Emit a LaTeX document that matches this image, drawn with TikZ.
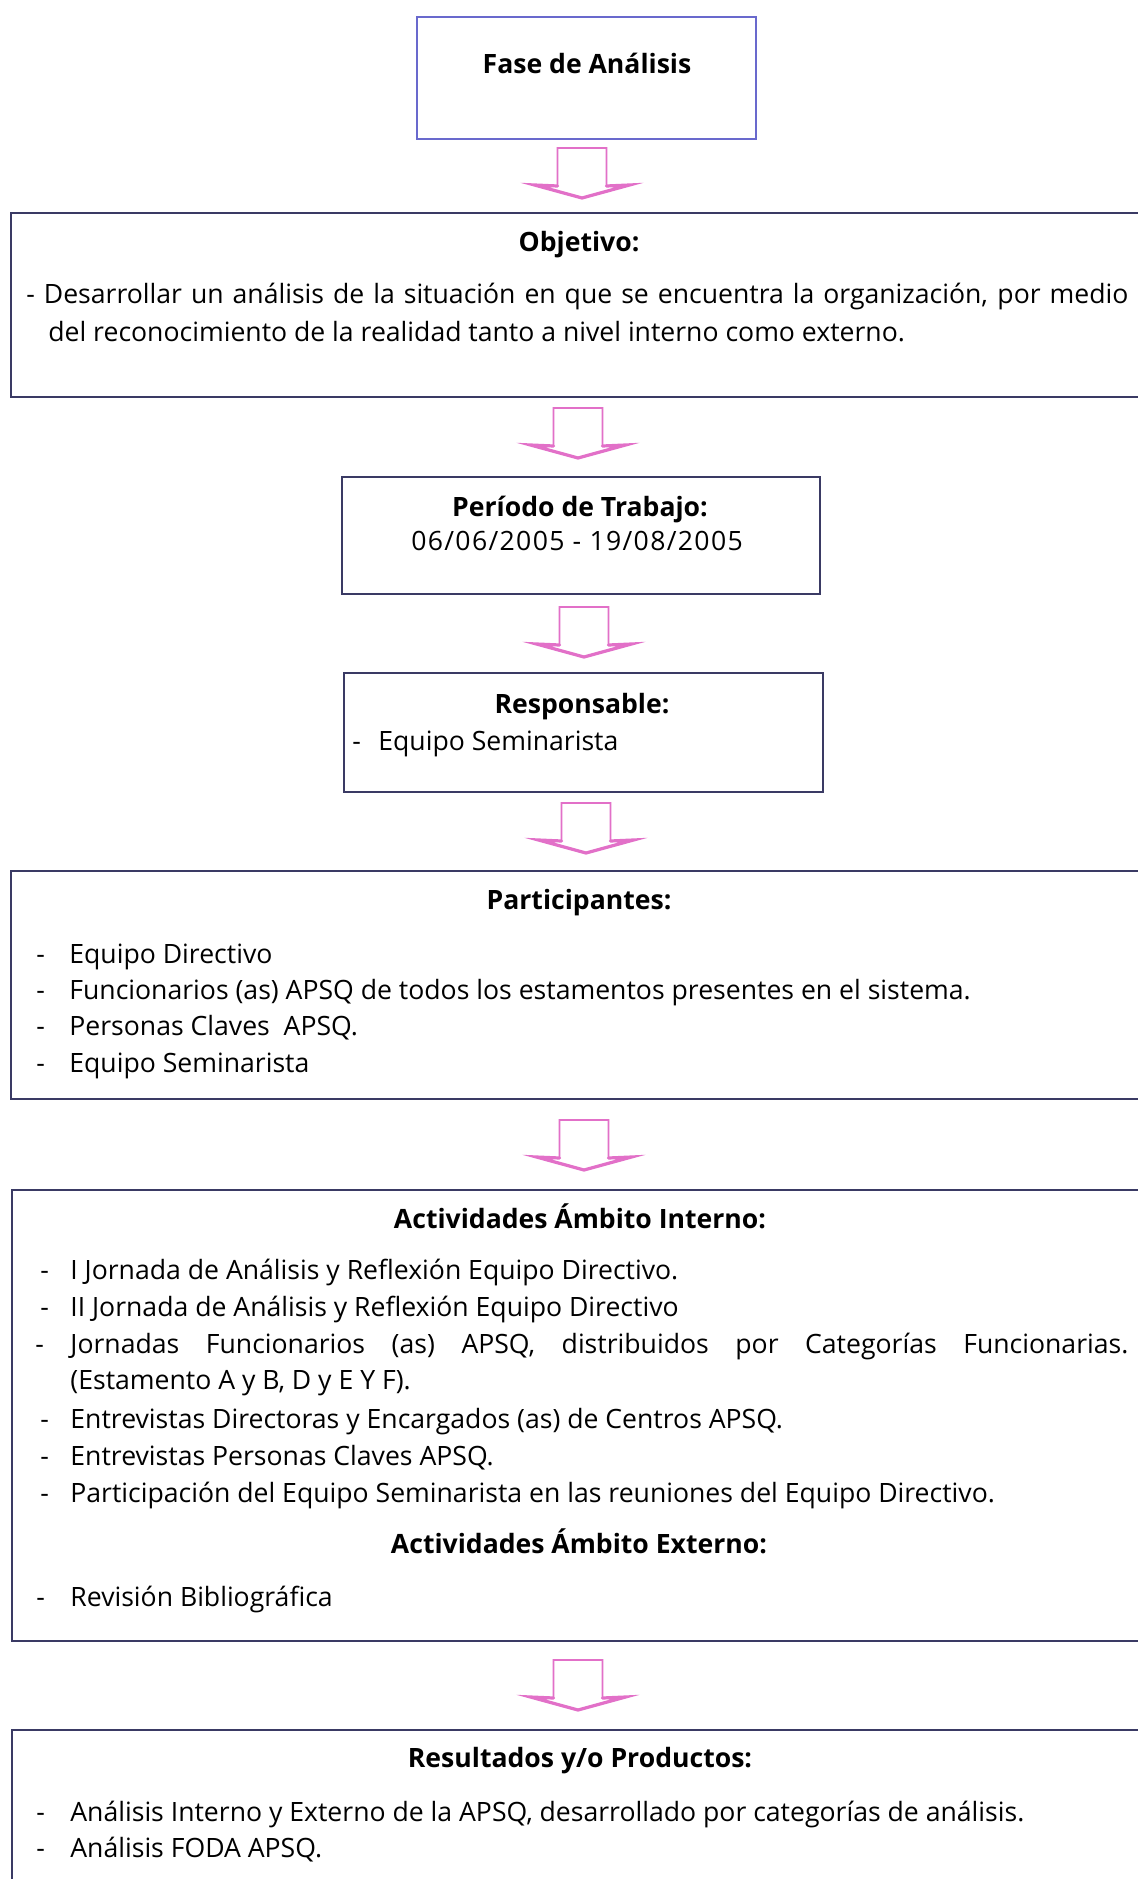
\documentclass[tikz,border=0pt]{standalone}
\usepackage{fontspec}
\setmainfont{Open Sans}
\usetikzlibrary{fit}

\definecolor{boxline}{RGB}{58,58,100}
\definecolor{topline}{RGB}{105,105,205}
\definecolor{arrowpink}{RGB}{226,112,200}

\newcommand\flowfont{\fontsize{13.3pt}{18pt}\selectfont}

\tikzset{
  frame/.style={draw=boxline, line width=1pt, inner sep=0pt, fill=white},
  heading/.style={font=\flowfont\bfseries, anchor=base, inner sep=0pt},
  txt/.style={font=\flowfont, anchor=base west, inner sep=0pt},
  flow/.style={draw=arrowpink, line width=0.9pt, fill=white, line join=miter},
  flowhead/.style={draw=arrowpink, line width=1.6pt, line join=miter, line cap=round},
  pics/downarrow/.style={code={
    \draw[flow] (-24.5,0) -- (24.5,0) -- (24.5,38) -- (47.5,37) -- (0,50)
      -- (-47.5,37) -- (-24.5,38) -- cycle;
    \draw[flowhead] (24.5,38) -- (47.5,37) -- (0,50) -- (-47.5,37) -- (-24.5,38);}},
}

\begin{document}
\begin{tikzpicture}[x=0.5pt,y=-0.5pt]
\useasboundingbox (0,0) rectangle (1138,1879);
\clip (0,0) rectangle (1138,1879);
\fill[white] (0,0) rectangle (1138,1879);

% frames
\node[frame, draw=topline, line width=1.3pt, fit={(417,17) (756,139)}] (fase) {};
\node[frame, fit={(11,213) (1170,397)}] (obj) {};
\node[frame, fit={(342,477) (820,594)}] (per) {};
\node[frame, fit={(344,673) (823,792)}] (resp) {};
\node[frame, fit={(11,871) (1170,1099)}] (part) {};
\node[frame, fit={(12,1190) (1170,1641)}] (act) {};
\node[frame, fit={(12,1730) (1170,1920)}] (res) {};

% block arrows between the frames
\coordinate (a1) at (582,148);
\coordinate (a2) at (578,408);
\coordinate (a3) at (584,607);
\coordinate (a4) at (586,803);
\coordinate (a5) at (584,1120);
\coordinate (a6) at (578,1660);
\foreach \a in {a1,a2,a3,a4,a5,a6} \pic at (\a) {downarrow};

% Fase
\node[heading] (faseT) at (587,73) {Fase de Análisis};

% Objetivo
\node[heading] (objT) at (579,251) {Objetivo:};
\node[txt] (obj1) at (26,303) {\makebox[551pt][s]{- Desarrollar un análisis de la situación en que se encuentra la organización, por medio}};
\node[txt] (obj2) at (48,341) {del reconocimiento de la realidad tanto a nivel interno como externo.};

% Periodo
\node[heading] (perT) at (580,516) {Período de Trabajo:};
\node[txt, anchor=base] (perD) at (577,550) {\addfontfeature{LetterSpace=5}06/06/2005 - 19/08/2005};

% Responsable
\node[heading] (respT) at (582,713) {Responsable:};
\node[txt] (resp1) at (352,750) {\makebox[13pt][l]{-}Equipo Seminarista};

% Participantes
\node[heading] (partT) at (579,909) {Participantes:};
\node[txt] (part1) at (36,963) {\makebox[16.5pt][l]{-}Equipo Directivo};
\node[txt] (part2) at (36,999) {\makebox[16.5pt][l]{-}Funcionarios (as) APSQ de todos los estamentos presentes en el sistema.};
\node[txt] (part3) at (36,1035) {\makebox[16.5pt][l]{-}Personas Claves\ \ APSQ.};
\node[txt] (part4) at (36,1072) {\makebox[16.5pt][l]{-}Equipo Seminarista};

% Actividades
\node[heading] (actT) at (580,1228) {Actividades Ámbito Interno:};
\node[txt] (act1) at (40,1279) {\makebox[15pt][l]{-}I Jornada de Análisis y Reflexión Equipo Directivo.};
\node[txt] (act2) at (40,1316) {\makebox[15pt][l]{-}II Jornada de Análisis y Reflexión Equipo Directivo};
\node[txt] (act3) at (35,1353) {\makebox[17.5pt][l]{-}\makebox[529pt][s]{Jornadas Funcionarios (as) APSQ, distribuidos por Categorías Funcionarias.}};
\node[txt] (act3b) at (70,1389) {(Estamento A y B, D y E Y F).};
\node[txt] (act4) at (40,1428) {\makebox[15pt][l]{-}Entrevistas Directoras y Encargados (as) de Centros APSQ.};
\node[txt] (act5) at (40,1465) {\makebox[15pt][l]{-}Entrevistas Personas Claves APSQ.};
\node[txt] (act6) at (40,1502) {\makebox[15pt][l]{-}Participación del Equipo Seminarista en las reuniones del Equipo Directivo.};
\node[heading] (extT) at (579,1553) {Actividades Ámbito Externo:};
\node[txt] (ext1) at (36,1606) {\makebox[17pt][l]{-}Revisión Bibliográfica};

% Resultados
\node[heading] (resT) at (580,1767) {Resultados y/o Productos:};
\node[txt] (res1) at (36,1821) {\makebox[17pt][l]{-}Análisis Interno y Externo de la APSQ, desarrollado por categorías de análisis.};
\node[txt] (res2) at (36,1857) {\makebox[17pt][l]{-}Análisis FODA APSQ.};
\end{tikzpicture}
\end{document}
